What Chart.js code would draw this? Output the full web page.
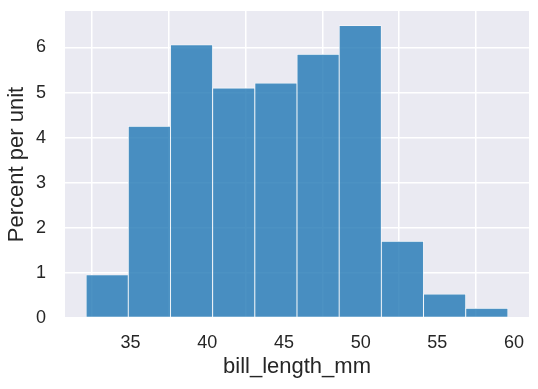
<!DOCTYPE html>
<html><head><meta charset="utf-8">
<script src="https://cdn.jsdelivr.net/npm/chart.js@4"></script>
<style>html,body{margin:0;padding:0;background:#fff}</style>
</head><body>
<canvas id="c" width="538" height="389"></canvas>
<script>
// histogram of bill_length_mm, stat = percent per unit
const binEdges = [32.1, 34.85, 37.6, 40.35, 43.1, 45.85, 48.6, 51.35, 54.1, 56.85, 59.6];
const percentPerUnit = [0.957, 4.253, 6.061, 5.104, 5.210, 5.848, 6.486, 1.701, 0.532, 0.213];
const xTicks = [35, 40, 45, 50, 55, 60];
const yTicks = [0, 1, 2, 3, 4, 5, 6];
const xLabel = 'bill_length_mm';
const yLabel = 'Percent per unit';

const points = percentPerUnit.map((v, i) => ({ x: (binEdges[i] + binEdges[i + 1]) / 2, y: v }));
const span = binEdges[binEdges.length - 1] - binEdges[0];
const xMin = binEdges[0] - 0.05 * span;
const xMax = binEdges[binEdges.length - 1] + 0.05 * span;
const yMax = Math.max(...percentPerUnit) * 1.05;

const bgPlugin = {
  id: 'bg',
  beforeDraw(chart) {
    const { ctx, chartArea: a } = chart;
    ctx.save();
    ctx.fillStyle = '#ffffff';
    ctx.fillRect(0, 0, chart.width, chart.height);
    ctx.fillStyle = '#EAEAF2';
    ctx.fillRect(a.left, a.top, a.right - a.left, a.bottom - a.top);
    ctx.restore();
  }
};

const FONT = "'Liberation Sans', Arial, sans-serif";
const TXT = '#262626';

new Chart(document.getElementById('c'), {
  type: 'bar',
  data: {
    datasets: [{
      data: points,
      backgroundColor: 'rgba(31,119,180,0.8)',
      borderColor: 'rgba(255,255,255,0.75)',
      borderWidth: 0.8,
      barPercentage: 1,
      categoryPercentage: 1,
      borderSkipped: false
    }]
  },
  options: {
    responsive: false,
    animation: false,
    layout: { padding: { top: 11, right: 9, left: 0, bottom: 0 } },
    plugins: { legend: { display: false }, tooltip: { enabled: false } },
    scales: {
      x: {
        type: 'linear',
        min: xMin,
        max: xMax,
        offset: false,
        afterBuildTicks: s => { s.ticks = xTicks.map(v => ({ value: v })); },
        afterFit: s => { s.height = 71; s.paddingLeft = 0; s.paddingRight = 0; },
        grid: { color: '#ffffff', lineWidth: 1.5, drawTicks: false },
        border: { display: false },
        ticks: { color: TXT, font: { family: FONT, size: 18 }, padding: 14, maxRotation: 0 },
        title: { display: true, text: xLabel, color: TXT, font: { family: FONT, size: 22 }, padding: { top: 0, bottom: 9 } }
      },
      y: {
        min: 0,
        max: yMax,
        afterBuildTicks: s => { s.ticks = yTicks.map(v => ({ value: v })); },
        afterFit: s => { s.width = 65; s.paddingTop = 0; s.paddingBottom = 0; },
        grid: { color: '#ffffff', lineWidth: 1.5, drawTicks: false },
        border: { display: false },
        ticks: { color: TXT, font: { family: FONT, size: 18 }, padding: 19 },
        title: { display: true, text: yLabel, color: TXT, font: { family: FONT, size: 22 }, padding: { top: 4, bottom: 0 } }
      }
    }
  },
  plugins: [bgPlugin]
});
</script>
</body></html>
